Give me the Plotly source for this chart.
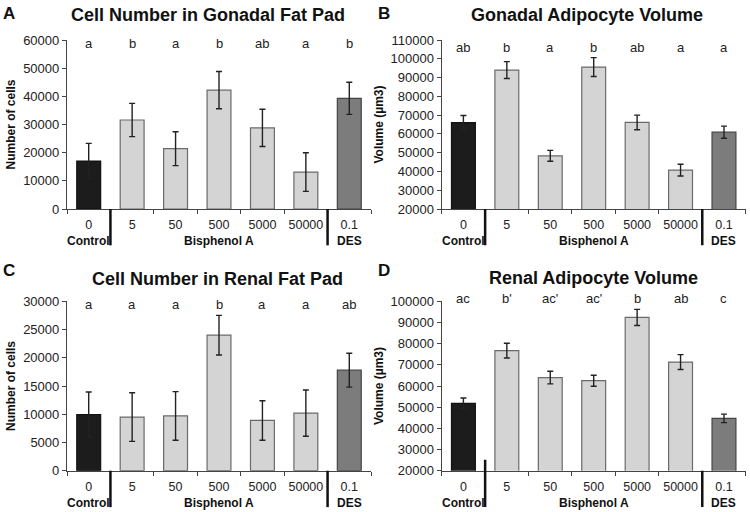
import plotly.graph_objects as go

# ---------------- data ----------------
doses = ["0", "5", "50", "500", "5000", "50000", "0.1"]
group_names = ["Control", "Bisphenol A", "DES"]
group_label_pos = ["0", "500", "0.1"]

gonadal_cells = [17000, 31600, 21400, 42200, 28800, 13100, 39300]
gonadal_cells_err = [6300, 5900, 6000, 6600, 6600, 6850, 5700]
gonadal_cells_letters = ["a", "b", "a", "b", "ab", "a", "b"]

gonadal_vol = [66000, 94000, 48300, 95600, 66100, 40700, 60900]
gonadal_vol_err = [3800, 4500, 2900, 5000, 3900, 3100, 3250]
gonadal_vol_letters = ["ab", "b", "a", "b", "ab", "a", "a"]

renal_cells = [9950, 9500, 9700, 24000, 8900, 10200, 17800]
renal_cells_err = [4000, 4300, 4300, 3500, 3500, 4100, 3000]
renal_cells_letters = ["a", "a", "a", "b", "a", "a", "ab"]

renal_vol = [51800, 76700, 64000, 62500, 92400, 71300, 44700]
renal_vol_err = [2500, 3500, 3000, 2600, 3800, 3500, 2000]
renal_vol_letters = ["ac", "b'", "ac'", "ac'", "b", "ab", "c"]

panel_titles = ["Cell Number in Gonadal Fat Pad", "Gonadal Adipocyte Volume",
                "Cell Number in Renal Fat Pad", "Renal Adipocyte Volume"]
panel_tags = ["A", "B", "C", "D"]
y_titles = ["Number of cells", "Volume (µm3)", "Number of cells", "Volume (µm3)"]
y_ranges = [[0, 60000], [20000, 110000], [0, 30000], [20000, 100000]]
y_dticks = [10000, 10000, 5000, 10000]

# ---------------- style ----------------
FONT = "Arial, Liberation Sans, sans-serif"
fill_colors = ["#1c1c1c"] + ["#d4d4d4"] * 5 + ["#7c7c7c"]
line_colors = ["#111111"] + ["#6a6a6a"] * 5 + ["#444444"]
AX = "#444444"

panels = [
    dict(vals=gonadal_cells, err=gonadal_cells_err, letters=gonadal_cells_letters,
         dom_x=[67 / 750, 371 / 750], dom_y=[(512 - 209) / 512, (512 - 40) / 512],
         letter_shift=-3, title_xy=(208, 15), tag_xy=(9, 13), sep_top=[0, 0]),
    dict(vals=gonadal_vol, err=gonadal_vol_err, letters=gonadal_vol_letters,
         dom_x=[441.7 / 750, 745.7 / 750], dom_y=[(512 - 209) / 512, (512 - 40) / 512],
         letter_shift=-7, title_xy=(587, 15), tag_xy=(384, 13), sep_top=[0, 0]),
    dict(vals=renal_cells, err=renal_cells_err, letters=renal_cells_letters,
         dom_x=[67 / 750, 371 / 750], dom_y=[(512 - 470.7) / 512, (512 - 301.3) / 512],
         letter_shift=-3, title_xy=(217, 279), tag_xy=(9, 270), sep_top=[0, 0]),
    dict(vals=renal_vol, err=renal_vol_err, letters=renal_vol_letters,
         dom_x=[441.7 / 750, 745.7 / 750], dom_y=[(512 - 470.7) / 512, (512 - 301.3) / 512],
         letter_shift=3, title_xy=(593, 278), tag_xy=(384, 270), sep_top=[0.065, 0]),
]

fig = go.Figure()
annotations = []
shapes = []

for i, p in enumerate(panels):
    n = "" if i == 0 else str(i + 1)
    xa, ya = "x" + n, "y" + n
    fig.add_trace(go.Bar(
        x=doses, y=p["vals"], xaxis=xa, yaxis=ya, width=0.55,
        marker=dict(color=fill_colors, line=dict(color=line_colors, width=1.2)),
        error_y=dict(type="data", array=p["err"], visible=True,
                     color="#222222", thickness=1.4, width=3),
        showlegend=False,
    ))
    fig.update_layout(**{
        "xaxis" + n: dict(
            domain=p["dom_x"], anchor=ya, type="category", categoryorder="array",
            categoryarray=doses, range=[-0.5, 6.5], showline=True, linecolor=AX,
            linewidth=1.2, ticks="outside", tickson="boundaries", ticklen=4,
            tickcolor=AX, tickfont=dict(family=FONT, size=12.5, color="#222"),
            tickangle=0, showgrid=False, zeroline=False, fixedrange=True,
            ticklabelstandoff=4, automargin=False,
        ),
        "yaxis" + n: dict(
            domain=p["dom_y"], anchor=xa, range=y_ranges[i], dtick=y_dticks[i],
            tick0=0, tickformat="d", showline=True, linecolor=AX, linewidth=1.2,
            ticks="outside", ticklen=4, tickcolor=AX, showgrid=False, zeroline=False,
            tickfont=dict(family=FONT, size=13, color="#222"), automargin=False,
            fixedrange=True,
            title=dict(text="<b>" + y_titles[i] + "</b>", standoff=4,
                       font=dict(family=FONT, size=12, color="#111")),
        ),
    })
    # significance letters
    for k, lt in enumerate(p["letters"]):
        annotations.append(dict(
            x=k, xref=xa, y=1, yref=ya + " domain", text=lt, showarrow=False,
            yanchor="middle", yshift=p["letter_shift"],
            font=dict(family=FONT, size=13, color="#222")))
    # group labels
    for d, g in zip(group_label_pos, group_names):
        annotations.append(dict(
            x=doses.index(d), xref=xa, y=0, yref=ya + " domain",
            text="<b>" + g + "</b>", showarrow=False, yanchor="middle", yshift=-32,
            font=dict(family=FONT, size=12, color="#111")))
    # panel title and tag
    tx, ty = p["title_xy"]
    annotations.append(dict(
        x=tx / 750, y=1 - ty / 512, xref="paper", yref="paper",
        text="<b>" + panel_titles[i] + "</b>", showarrow=False,
        xanchor="center", yanchor="middle",
        font=dict(family=FONT, size=18, color="#111")))
    gx, gy = p["tag_xy"]
    annotations.append(dict(
        x=gx / 750, y=1 - gy / 512, xref="paper", yref="paper",
        text="<b>" + panel_tags[i] + "</b>", showarrow=False,
        xanchor="center", yanchor="middle",
        font=dict(family=FONT, size=17, color="#111")))
    # group separators
    for xs, top in zip([0.5, 5.5], p["sep_top"]):
        shapes.append(dict(
            type="line", xref=xa, yref=ya + " domain", x0=xs, x1=xs,
            y0=top, y1=-0.215, line=dict(color="#111", width=2.5)))

fig.update_layout(
    width=750, height=512, margin=dict(l=0, r=0, t=0, b=0, autoexpand=False),
    paper_bgcolor="white", plot_bgcolor="white",
    annotations=annotations, shapes=shapes, bargap=0.45,
    font=dict(family=FONT),
)

fig.write_html("out.html",
               config={"displayModeBar": False},
               post_script="document.body.style.margin='0';"
                           "document.body.style.overflow='hidden';")
